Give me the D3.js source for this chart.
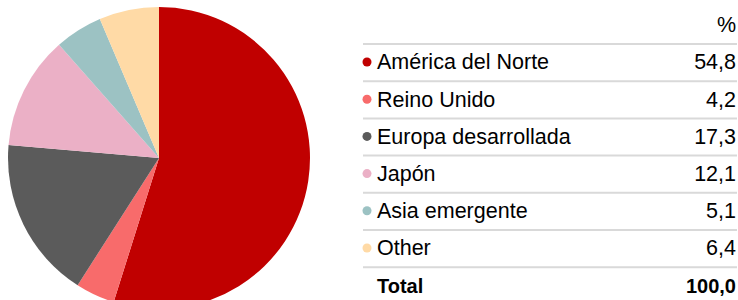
<!DOCTYPE html>
<html>
<head>
<meta charset="utf-8">
<script src="https://cdn.jsdelivr.net/npm/d3@7"></script>
<style>
  body { margin: 0; background: #fff; }
  text { font-family: "Liberation Sans", Arial, sans-serif; }
</style>
</head>
<body>
<div id="chart"></div>
<script>
// data
var regions = ["América del Norte", "Reino Unido", "Europa desarrollada", "Japón", "Asia emergente", "Other"];
var shares = [54.8, 4.2, 17.3, 12.1, 5.1, 6.4];
var colors = ["#c00000", "#f86b6b", "#5b5b5b", "#ebb0c6", "#9cc2c3", "#ffdaa6"];
var unitLabel = "%";
var totalLabel = "Total";
var totalValue = "100,0";

var svgWidth = 738, svgHeight = 300;
var svg = d3.select("#chart").append("svg").attr("width", svgWidth).attr("height", svgHeight);

// pie
var radius = 151;
var pieGroup = svg.append("g").attr("transform", "translate(159, 158)");
var pie = d3.pie().sort(null).value(d => d);
var arc = d3.arc().innerRadius(0).outerRadius(radius);

pieGroup.selectAll("path")
    .data(pie(shares))
    .enter()
    .append("path")
    .attr("d", arc)
    .attr("fill", (d, i) => colors[i]);

// table
var fmt = v => d3.format(".1f")(v).replace(".", ",");
var rowH = 37.2;
var firstLine = 44;
var tableLeft = 363, tableRight = 737;
var fontSize = "21.5px";
var yScale = d3.scaleLinear().domain([0, 1]).range([firstLine, firstLine + rowH]);

var table = svg.append("g");

// separator lines
d3.range(regions.length + 1).forEach(function(i) {
    table.append("line")
        .attr("x1", tableLeft).attr("x2", tableRight)
        .attr("y1", yScale(i)).attr("y2", yScale(i))
        .attr("stroke", "#d9d9d9")
        .attr("stroke-width", 2);
});

// header
table.append("text")
    .attr("x", tableRight - 1)
    .attr("y", yScale(-1) + 25)
    .attr("text-anchor", "end")
    .attr("font-size", fontSize)
    .attr("fill", "#000")
    .text(unitLabel);

var rows = table.selectAll(".row").data(regions).enter().append("g").attr("class", "row");

rows.append("circle")
    .attr("cx", 367)
    .attr("cy", (d, i) => yScale(i) + 18)
    .attr("r", 4.5)
    .attr("fill", (d, i) => colors[i]);

rows.append("text")
    .attr("x", 377)
    .attr("y", (d, i) => yScale(i) + 25.3)
    .attr("font-size", fontSize)
    .attr("fill", "#000")
    .text(d => d);

rows.append("text")
    .attr("x", tableRight - 1)
    .attr("y", (d, i) => yScale(i) + 25.3)
    .attr("text-anchor", "end")
    .attr("font-size", fontSize)
    .attr("fill", "#000")
    .text((d, i) => fmt(shares[i]));

// total
table.append("text")
    .attr("x", 377)
    .attr("y", yScale(regions.length) + 25.5)
    .attr("font-size", "20px")
    .attr("font-weight", "bold")
    .text(totalLabel);

table.append("text")
    .attr("x", tableRight - 1)
    .attr("y", yScale(regions.length) + 25.5)
    .attr("text-anchor", "end")
    .attr("font-size", "20px")
    .attr("font-weight", "bold")
    .text(totalValue);
</script>
</body>
</html>
